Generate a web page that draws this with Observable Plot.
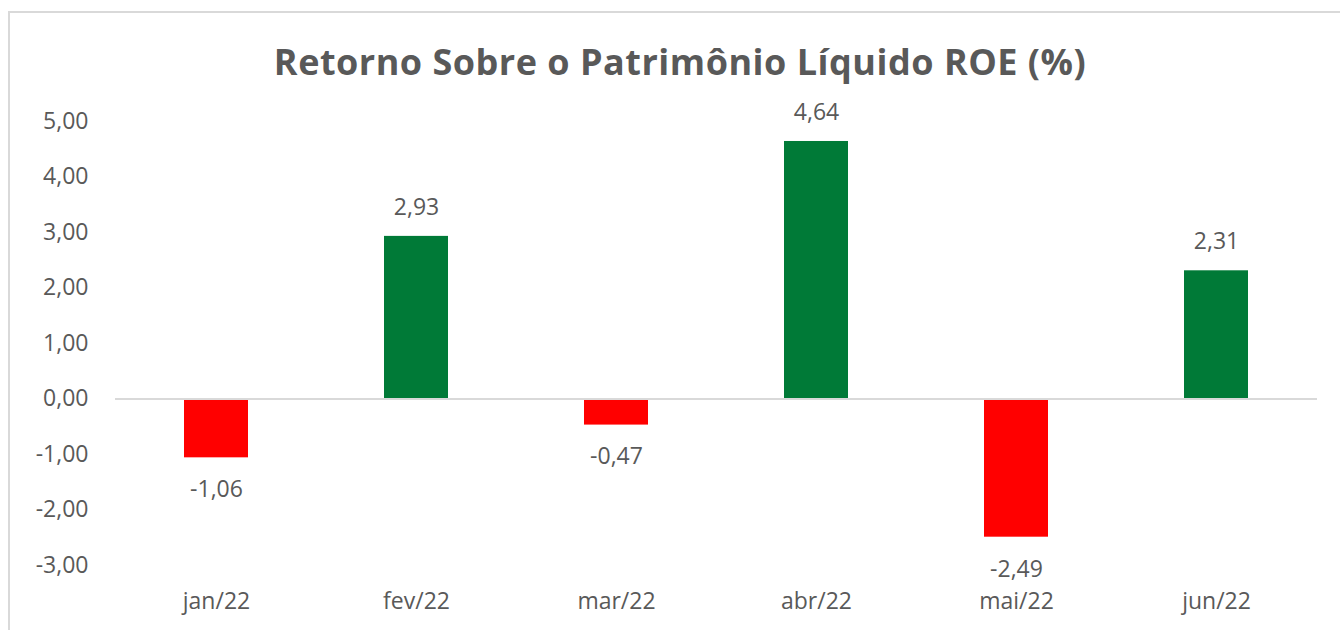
<!DOCTYPE html>
<html><head><meta charset="utf-8">
<script src="https://cdn.jsdelivr.net/npm/d3@7"></script>
<script src="https://cdn.jsdelivr.net/npm/@observablehq/plot@0.6"></script>
<style>
html,body{margin:0;padding:0;background:#fff;width:1340px;height:630px;overflow:hidden;font-family:"Open Sans",sans-serif;}
#frame{position:absolute;left:8px;top:11px;width:1400px;height:700px;border-left:2px solid #d9d9d9;border-top:2px solid #d9d9d9;}
#title{position:absolute;left:0;top:37px;width:1360px;text-align:center;font-size:36px;font-weight:bold;color:#595959;line-height:50px;letter-spacing:0.5px;}
#chart{position:absolute;left:0;top:80px;}
</style></head>
<body>
<div id="frame"></div>
<div id="title">Retorno Sobre o Patrimônio Líquido ROE (%)</div>
<div id="chart"></div>
<script>
const months = ["jan/22","fev/22","mar/22","abr/22","mai/22","jun/22"];
const roe = [-1.06, 2.93, -0.47, 4.64, -2.49, 2.31];
const yTicks = [-3,-2,-1,0,1,2,3,4,5];

const data = months.map((m,i)=>({month:m, value:roe[i]}));
const fmt = d => d.toFixed(2).replace(".", ",");
const textColor = "#595959";

const chart = Plot.plot({
  width: 1340,
  height: 550,
  marginLeft: 115,
  marginRight: 23,
  marginTop: 41,
  marginBottom: 65,
  style: {fontFamily: "'Open Sans', sans-serif", fontSize: "24px", color: textColor, background: "transparent"},
  x: {domain: months, paddingInner: 0.68, paddingOuter: 0.34, label: null},
  y: {domain: [-3, 5], label: null},
  marks: [
    Plot.barY(data, {x: "month", y: "value", fill: d => d.value >= 0 ? "#007A37" : "#FF0000"}),
    Plot.ruleY([0], {stroke: "#d9d9d9", strokeWidth: 2}),
    Plot.text(data.filter(d => d.value >= 0), {x: "month", y: "value", text: d => fmt(d.value), dy: -29, fill: textColor, fontSize: 23}),
    Plot.text(data.filter(d => d.value < 0), {x: "month", y: "value", text: d => fmt(d.value), dy: 32, fill: textColor, fontSize: 23}),
    Plot.axisY({ticks: yTicks, tickFormat: fmt, tickSize: 0, tickPadding: 27, fontSize: 23, fill: textColor}),
    Plot.axisX({tickSize: 0, tickPadding: 27, fontSize: 23, fill: textColor})
  ]
});
document.getElementById("chart").appendChild(chart);
</script>
</body></html>
